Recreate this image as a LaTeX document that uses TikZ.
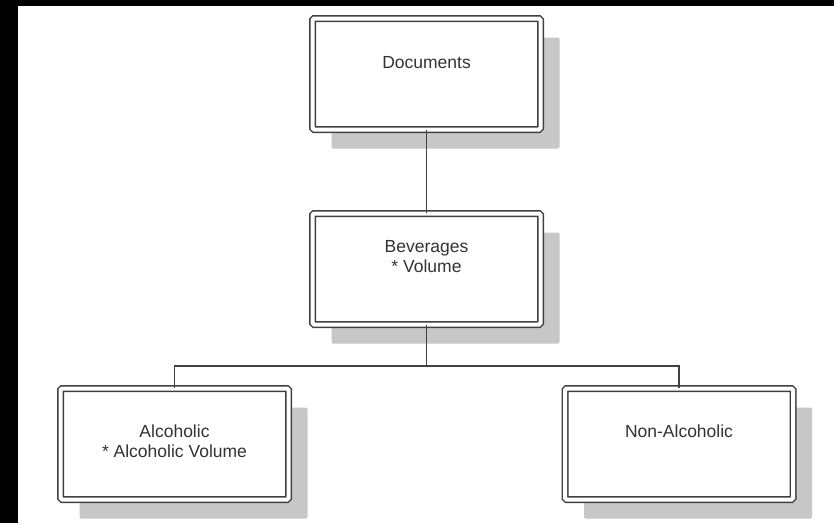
\documentclass[tikz,border=0pt]{standalone}
\usepackage{fontspec}
\setmainfont{Liberation Sans}
\usetikzlibrary{shadows}
\begin{document}
\begin{tikzpicture}[x=1pt,y=-1pt]
	\tikzstyle{entity}=[rectangle,draw=black!75,line width=1.5pt,double=white,double distance=4pt,rounded corners=1.5pt,fill=white,minimum width=228pt,minimum height=111pt,drop shadow={shadow xshift=19pt,shadow yshift=-19pt,fill=black!22,opacity=1}]
	\tikzstyle{caption}=[inner sep=0pt,align=center,text=black!80,font=\fontsize{17.5}{20}\selectfont]
	\tikzstyle{edge}=[draw,line width=1.6pt,black!75]
	\useasboundingbox (0,0) rectangle (834,523);
	\fill[black] (0,0) rectangle (834,523);
	\fill[white] (18,6) rectangle (834,523);
	\begin{scope}
		\node [entity] (docs) at (426.5,74) {};
		\node [entity] (bev) at (426.5,269) {};
		\node [entity] (alc) at (174.5,444) {};
		\node [entity] (nonalc) at (679,444) {};
		\node [caption] (t1) at (426.5,63) {Documents};
		\node [caption] (t2) at (426.5,256.5) {Beverages\\* Volume};
		\node [caption] (t3) at (174.5,441.5) {Alcoholic\\* Alcoholic Volume};
		\node [caption] (t4) at (679,431) {Non-Alcoholic};
		\coordinate (j) at (426.5,366);
		\path[edge] (docs) -- (bev);
		\path[edge] (bev) -- (j);
		\path[edge] (j) -| (alc);
		\path[edge] (j) -| (nonalc);
	\end{scope}
\end{tikzpicture}
\end{document}
